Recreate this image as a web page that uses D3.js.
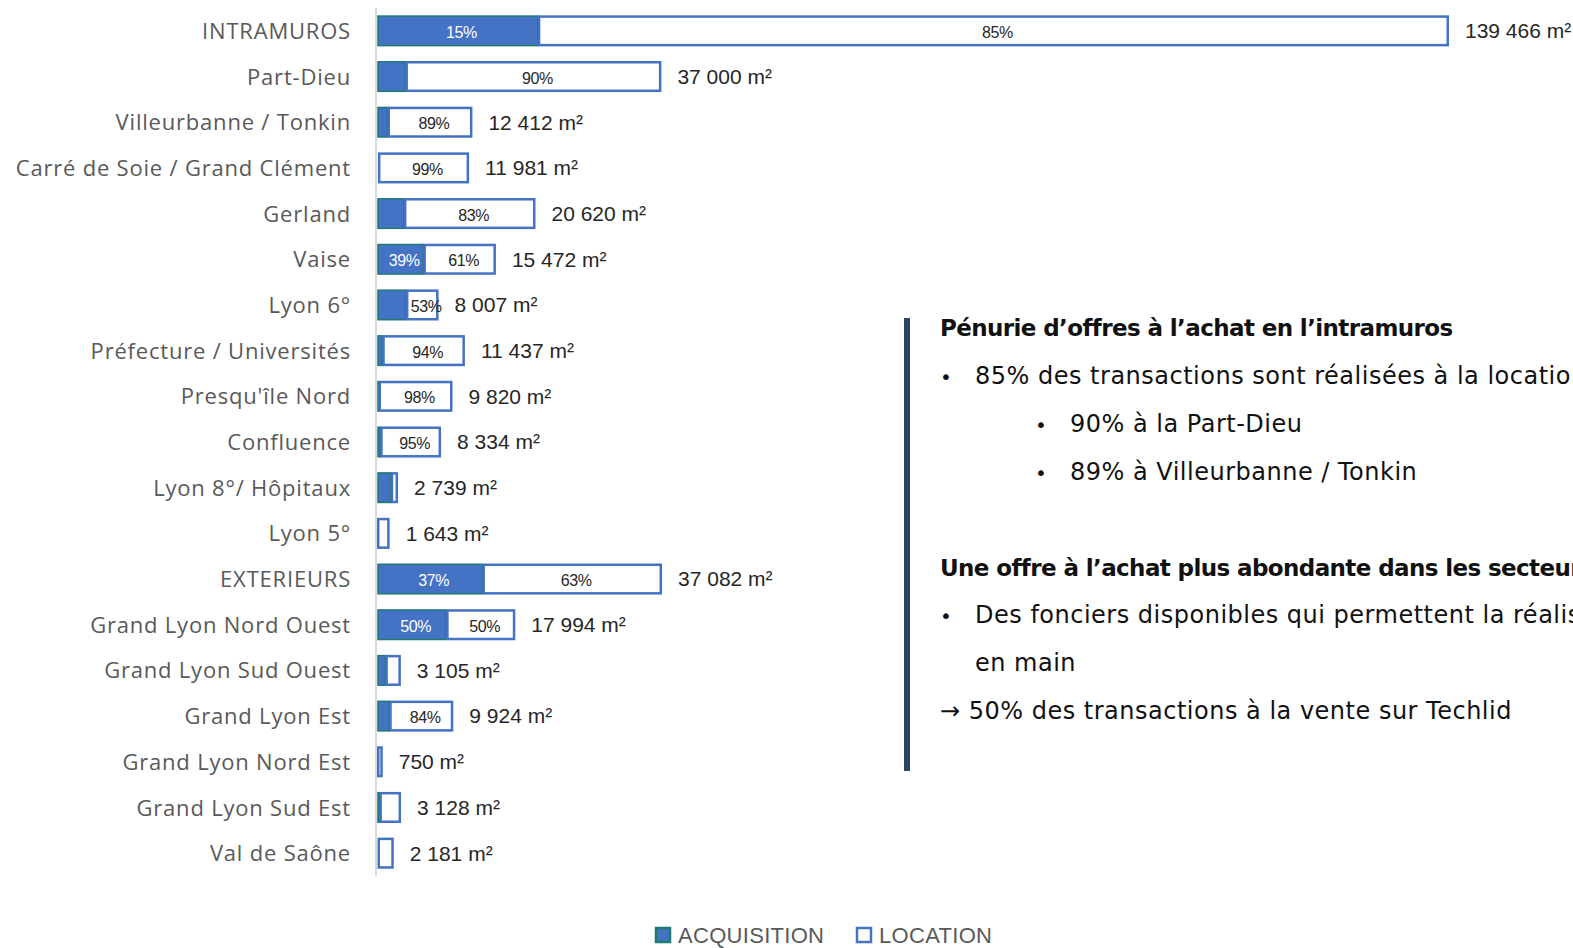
<!DOCTYPE html>
<html lang="fr">
<head>
<meta charset="utf-8">
<script src="https://cdn.jsdelivr.net/npm/d3@7"></script>
<style>
  html, body { margin: 0; padding: 0; background: #ffffff; overflow: hidden; }
  svg { display: block; }
</style>
</head>
<body>
<svg id="chart" width="1573" height="948"></svg>
<script>
// Secteurs de l'agglomération lyonnaise
const categories = [
  "INTRAMUROS", "Part-Dieu", "Villeurbanne / Tonkin", "Carré de Soie / Grand Clément",
  "Gerland", "Vaise", "Lyon 6°", "Préfecture / Universités", "Presqu'île Nord",
  "Confluence", "Lyon 8°/ Hôpitaux", "Lyon 5°", "EXTERIEURS", "Grand Lyon Nord Ouest",
  "Grand Lyon Sud Ouest", "Grand Lyon Est", "Grand Lyon Nord Est", "Grand Lyon Sud Est",
  "Val de Saône"
];

// Surface totale transactée (m²)
const totals = [139466, 37000, 12412, 11981, 20620, 15472, 8007, 11437, 9820, 8334,
                2739, 1643, 37082, 17994, 3105, 9924, 750, 3128, 2181];

// Part de l'acquisition (%) ; la location représente le complément
const acquisitionShare = [15, 10, 11, 1, 17, 39, 47, 6, 2, 5, 65, 0, 37, 50, 35, 16, 0, 10, 3];

// Pourcentages affichés dans les barres
const showAcquisitionLabel = [true, false, false, false, false, true, false, false, false, false,
                              false, false, true, true, false, false, false, false, false];
const showLocationLabel = [true, true, true, true, true, true, true, true, true, true,
                           false, false, true, true, false, true, false, false, false];

const seriesNames = ["ACQUISITION", "LOCATION"];

const rows = categories.map((c, i) => ({
  category: c,
  total: totals[i],
  acq: totals[i] * acquisitionShare[i] / 100,
  acqPct: acquisitionShare[i],
  locPct: 100 - acquisitionShare[i],
  showAcq: showAcquisitionLabel[i],
  showLoc: showLocationLabel[i]
}));

const svg = d3.select("#chart");

const x = d3.scaleLinear().domain([0, d3.max(totals)]).range([377, 1449]);
const y = d3.scaleBand().domain(categories).range([8, 876])
  .paddingInner(0.32).paddingOuter(0.16);

const BLUE = "#4472C4";
const TEAL = "#1E7B72";

// Axe vertical des catégories
svg.append("line")
  .attr("x1", 376).attr("x2", 376)
  .attr("y1", 8).attr("y2", 876)
  .attr("stroke", "#d9d9d9").attr("stroke-width", 2);

const yAxis = d3.axisLeft(y).tickSize(0).tickPadding(0);
const gy = svg.append("g").attr("transform", "translate(351,1)").call(yAxis);
gy.select(".domain").remove();
gy.selectAll("text")
  .attr("font-family", "'Open Sans', sans-serif")
  .attr("font-size", 22)
  .attr("letter-spacing", 0.8)
  .attr("fill", "#595959")
  .attr("dy", "0.32em");

const bars = svg.append("g").selectAll("g.row").data(rows).join("g").attr("class", "row");

// Acquisition
bars.filter(d => d.acq > 0).append("rect")
  .attr("x", x(0) + 1)
  .attr("y", d => y(d.category) + 0.75)
  .attr("width", d => Math.max(0, x(d.acq) - x(0) - 1))
  .attr("height", y.bandwidth() - 1.5)
  .attr("fill", BLUE)
  .attr("stroke", TEAL)
  .attr("stroke-width", 1.5);

// Location
bars.append("rect")
  .attr("x", d => x(d.acq) + 1.25)
  .attr("y", d => y(d.category) + 1.25)
  .attr("width", d => Math.max(0.5, x(d.total) - x(d.acq) - 2.5))
  .attr("height", y.bandwidth() - 2.5)
  .attr("fill", "#ffffff")
  .attr("stroke", BLUE)
  .attr("stroke-width", 2.5);

// Étiquettes de pourcentage
const pctFont = "'Liberation Sans', sans-serif";
bars.filter(d => d.showAcq).append("text")
  .attr("x", d => (x(0) + x(d.acq)) / 2 + 4)
  .attr("y", d => y(d.category) + y.bandwidth() / 2 + 7)
  .attr("text-anchor", "middle")
  .attr("font-family", pctFont)
  .attr("font-size", 16)
  .attr("letter-spacing", -0.4)
  .attr("fill", "#ffffff")
  .text(d => d.acqPct + "%");

bars.filter(d => d.showLoc).append("text")
  .attr("x", d => (x(d.acq) + x(d.total)) / 2 + 4)
  .attr("y", d => y(d.category) + y.bandwidth() / 2 + 7)
  .attr("text-anchor", "middle")
  .attr("font-family", pctFont)
  .attr("font-size", 16)
  .attr("letter-spacing", -0.4)
  .attr("fill", "#262626")
  .text(d => d.locPct + "%");

// Totaux en fin de barre
const fmt = d3.formatLocale({ decimal: ",", thousands: " ", grouping: [3], currency: ["", " €"] }).format(",d");
bars.append("text")
  .attr("x", d => x(d.total) + 16)
  .attr("y", d => y(d.category) + y.bandwidth() / 2)
  .attr("dy", "0.35em")
  .attr("font-family", "'Liberation Sans', sans-serif")
  .attr("font-size", 21)
  .attr("fill", "#262626")
  .text(d => fmt(d.total) + " m²");

// Légende
const legend = svg.append("g").attr("transform", "translate(655,926)");
const legendItems = legend.selectAll("g").data(seriesNames).join("g")
  .attr("transform", (d, i) => `translate(${i * 201},0)`);
legendItems.append("rect")
  .attr("x", 1).attr("y", 2).attr("width", 14).attr("height", 14)
  .attr("fill", (d, i) => i === 0 ? BLUE : "#ffffff")
  .attr("stroke", (d, i) => i === 0 ? TEAL : BLUE)
  .attr("stroke-width", 2.5);
legendItems.append("text")
  .attr("x", 23).attr("y", 17)
  .attr("font-family", "'Liberation Sans', sans-serif")
  .attr("font-size", 22)
  .attr("letter-spacing", 0.3)
  .attr("fill", "#595959")
  .text(d => d);

// Commentaire
svg.append("rect")
  .attr("x", 904).attr("y", 318).attr("width", 6).attr("height", 453)
  .attr("fill", "#2C4467");

const notes = [
  { text: "Pénurie d’offres à l’achat en l’intramuros", x: 940, y: 336, bold: true },
  { text: "85% des transactions sont réalisées à la location", x: 975, y: 384, bullet: 940 },
  { text: "90% à la Part-Dieu", x: 1070, y: 432, bullet: 1035 },
  { text: "89% à Villeurbanne / Tonkin", x: 1070, y: 480, bullet: 1035 },
  { text: "Une offre à l’achat plus abondante dans les secteurs extérieurs", x: 940, y: 576, bold: true },
  { text: "Des fonciers disponibles qui permettent la réalisation de clés", x: 975, y: 623, bullet: 940 },
  { text: "en main", x: 975, y: 671 },
  { text: "→ 50% des transactions à la vente sur Techlid", x: 940, y: 719 }
];
const noteG = svg.append("g").attr("font-family", "'DejaVu Sans', sans-serif").attr("fill", "#111111");
notes.forEach(n => {
  noteG.append("text")
    .attr("x", n.x).attr("y", n.y)
    .attr("font-size", n.bold ? 23 : 24)
    .attr("font-weight", n.bold ? "bold" : "normal")
    .attr("letter-spacing", n.bold ? -0.6 : 0.5)
    .text(n.text);
  if (n.bullet) {
    noteG.append("text")
      .attr("x", n.bullet).attr("y", n.y)
      .attr("font-size", 20)
      .text("•");
  }
});
</script>
</body>
</html>
